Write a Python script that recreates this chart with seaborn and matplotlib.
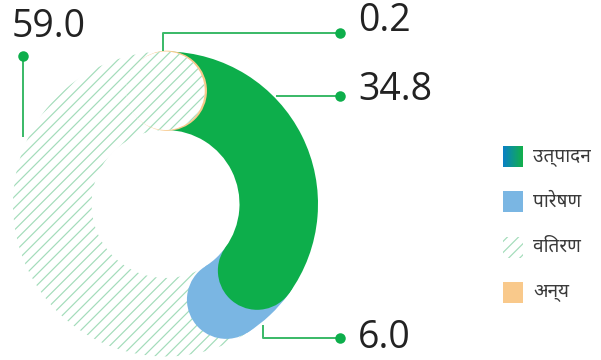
import numpy as np
import matplotlib
matplotlib.use("Agg")
import matplotlib.pyplot as plt
from matplotlib import font_manager
from matplotlib.ft2font import FT2Font
from matplotlib.patches import Wedge, Circle, Rectangle
from matplotlib.colors import LinearSegmentedColormap
import seaborn as sns

# Share of each segment (percent), in drawing order from 12 o'clock clockwise
categories = ["अन्य", "उत्पादन", "पारेषण", "वितरण"]
values = [0.2, 34.8, 6.0, 59.0]
value_labels = ["0.2", "34.8", "6.0", "59.0"]
legend_order = ["उत्पादन", "पारेषण", "वितरण", "अन्य"]

sns.set_theme(style="white")

GREEN = "#0dae4b"
BLUE = "#7ab6e3"
ORANGE = "#f9c98b"
HATCH = "#a3dcba"
LINE = "#3dba6a"
TEXT = "#222222"

DPI = 100
PX = 72 / DPI  # one pixel in points


def devanagari_family():
    """First preferred family whose file covers Devanagari."""
    preferred = ["Noto Sans Devanagari", "Noto Sans Devanagari UI", "Hind",
                 "Mukta", "Poppins", "Lohit Devanagari", "FreeSans"]
    by_name = {}
    for f in font_manager.fontManager.ttflist:
        by_name.setdefault(f.name, f.fname)
    for name in preferred:
        path = by_name.get(name)
        if not path:
            continue
        try:
            if 0x0909 in FT2Font(path).get_charmap():
                return name
        except Exception:
            pass
    return "FreeSans"


deva = devanagari_family()
num_family = ["Open Sans", "DejaVu Sans"]
leg_family = [deva, "DejaVu Sans"]
plt.rcParams["font.family"] = num_family
plt.rcParams["hatch.linewidth"] = 1.2 * PX

W, H = 601, 360
fig = plt.figure(figsize=(W / DPI, H / DPI), dpi=DPI)
ax = fig.add_axes([0, 0, 1, 1])
ax.set_xlim(0, W)
ax.set_ylim(H, 0)
ax.set_aspect("equal")
ax.axis("off")

cx, cy = 165.5, 204.0
R_out, R_in = 152.5, 74.0
mid = (R_out + R_in) / 2
cap = (R_out - R_in) / 2


def ang(frac):
    return -90 + 360 * frac


def pt(frac, r):
    a = np.radians(ang(frac))
    return cx + r * np.cos(a), cy + r * np.sin(a)


cum = np.concatenate([[0], np.cumsum(values)]) / 100.0
styles = {
    "अन्य": dict(facecolor=ORANGE, edgecolor=ORANGE),
    "उत्पादन": dict(facecolor=GREEN),
    "पारेषण": dict(facecolor=BLUE),
    "वितरण": dict(facecolor="white", hatch="///", edgecolor=HATCH),
}
z = {"वितरण": 1, "पारेषण": 2, "उत्पादन": 3, "अन्य": 4}

for i, cat in enumerate(categories):
    s, e = cum[i], cum[i + 1]
    st = styles[cat]
    ax.add_patch(Wedge((cx, cy), R_out, ang(s), ang(e), width=R_out - R_in,
                       lw=0, zorder=z[cat], **st))
    lw = 1.6 * PX if cat == "अन्य" else 0
    ax.add_patch(Circle(pt(e, mid), cap, lw=lw, zorder=z[cat], **st))

# rounded end of the last segment sits over the start of the ring
ax.add_patch(Circle(pt(cum[-1], mid), cap, lw=0, zorder=5, **styles["वितरण"]))

# leader lines and value labels
leaders = {
    "0.2": dict(path=[(163, 51), (163, 33), (340, 33)], text=(358, 21)),
    "34.8": dict(path=[(276, 96), (340, 96)], text=(358, 90)),
    "6.0": dict(path=[(263, 325), (263, 338), (340, 338)], text=(358, 338)),
    "59.0": dict(path=[(23, 137), (23, 56)], text=(12, 27)),
}
for lab in value_labels:
    d = leaders[lab]
    xs, ys = zip(*d["path"])
    ax.plot(xs, ys, color=LINE, lw=2.0 * PX, zorder=6, solid_capstyle="butt")
    ax.scatter([xs[-1]], [ys[-1]], s=(10.5 * PX) ** 2, color=GREEN, zorder=7,
               linewidths=0)
    ax.text(d["text"][0], d["text"][1], lab, fontsize=37.5 * PX, color=TEXT,
            ha="left", va="center", zorder=8)

# legend
grad = LinearSegmentedColormap.from_list("g", ["#0a80c6", "#12b04a"])
for k, cat in enumerate(legend_order):
    y0 = 146 + k * 45.3
    x0 = 503
    if cat == "उत्पादन":
        ax.imshow(np.linspace(0, 1, 64)[None, :], cmap=grad, aspect="auto",
                  extent=(x0, x0 + 20, y0 + 21, y0), zorder=3)
    else:
        ax.add_patch(Rectangle((x0, y0), 20, 21, lw=0, **styles[cat]))
    ax.text(533, y0 + 10.5, cat, fontsize=19 * PX, color="#3a3a3a",
            ha="left", va="center", family=leg_family)

fig.savefig("out.png", dpi=DPI)
